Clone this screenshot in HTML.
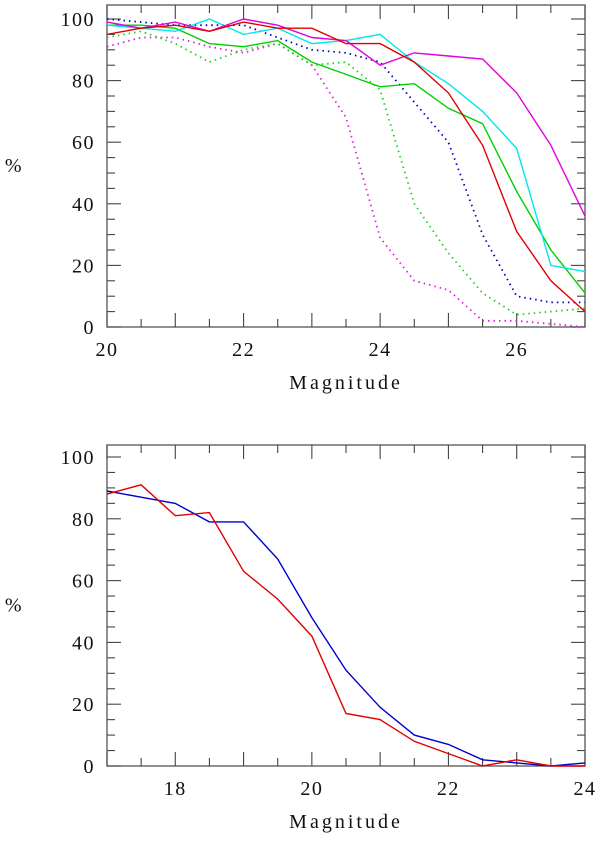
<!DOCTYPE html>
<html><head><meta charset="utf-8"><style>
body{margin:0;background:#fff;}
svg text{font-family:"Liberation Serif",serif;font-size:20px;fill:#111;letter-spacing:1.5px;}
svg text.ttl{letter-spacing:3px;}
</style></head><body>
<svg id="c" width="600" height="836" xmlns="http://www.w3.org/2000/svg"></svg>
<script>
const topX = [20,20.5,21,21.5,22,22.5,23,23.5,24,24.5,25,25.5,26,26.5,27];
const cyanSolid = [98,97,96,100,95,97,92,93,95,86,79,70,58,20,18];
const magentaSolid = [99,97,99,96,100,98,94,93,85,89,88,87,76,59,36];
const redSolid = [95,97,98,96,99,97,97,92,92,86,76,59,31,15,5];
const greenSolid = [98,98,97,92,91,93,86,82,78,79,71,66,44,25,11];
const blueDotted = [100,99,98,98,98,94,90,89,86,73,60,30,10,8,8];
const greenDotted = [94,96,92,86,90,92,85,86,77,40,24,11,4,5,6];
const magentaDotted = [91,94,94,91,89,92,85,68,29,15,12,2,2,1,0];
const botX = [17,17.5,18,18.5,19,19.5,20,20.5,21,21.5,22,22.5,23,23.5,24];
const blueBottom = [89,87,85,79,79,67,48,31,19,10,7,2,1,0,1];
const redBottom = [88,91,81,82,63,54,42,17,15,8,4,0,2,0,0];
const topXTicks = [20,22,24,26];
const botXTicks = [18,20,22,24];
const yTicks = [0,20,40,60,80,100];

const NS="http://www.w3.org/2000/svg";
const svg=document.getElementById('c');
function mk(t,a,p){const e=document.createElementNS(NS,t);for(const k in a)e.setAttribute(k,a[k]);(p||svg).appendChild(e);return e;}

function panel(name,x0,x1,y0,L,R,T,B,xTicks,series){
  const g=mk('g',{});
  
  
  const sx=v=>L+(v-x0)/(x1-x0)*(R-L);
  const sy=v=>B-(v-0)/(100)*(B-y0);
  mk('rect',{x:L,y:T,width:R-L,height:B-T,fill:'none',stroke:'#555','stroke-width':1.3},g);
  for(let v=x0;v<=x1+1e-9;v+=0.5){
    const len=Math.abs(v-Math.round(v))<1e-9?14:8;
    const x=sx(v);
    mk('line',{x1:x,y1:B,x2:x,y2:B-len,stroke:'#444','stroke-width':1.1},g);
    mk('line',{x1:x,y1:T,x2:x,y2:T+len,stroke:'#444','stroke-width':1.1},g);
  }
  for(let v=0;v<=100;v+=5){
    const len=v%20===0?14:8;
    const y=sy(v);
    mk('line',{x1:L,y1:y,x2:L+len,y2:y,stroke:'#444','stroke-width':1.1},g);
    mk('line',{x1:R,y1:y,x2:R-len,y2:y,stroke:'#444','stroke-width':1.1},g);
  }
  xTicks.forEach(v=>{const t=mk('text',{x:sx(v),y:B+29,'text-anchor':'middle'},g);t.textContent=v;
    
    });
  yTicks.forEach(v=>{const t=mk('text',{x:L-12,y:sy(v)+7,'text-anchor':'end'},g);t.textContent=v;
    
    });
  const yl=mk('text',{x:14,y:(T+B)/2+6,'text-anchor':'middle'},g);yl.textContent='%';
  
  
  const xl=mk('text',{x:(L+R)/2,y:B+62,'text-anchor':'middle','class':'ttl'},g);xl.textContent='Magnitude';
  
  
  series.forEach(s=>{
    const pts=s.xs.map((x,i)=>sx(x).toFixed(1)+','+sy(s.ys[i]).toFixed(1)).join(' ');
    const p=mk('polyline',{points:pts,fill:'none',stroke:s.c,'stroke-width':1.4},g);
    if(s.d){p.setAttribute('stroke-dasharray','1.5,4');p.setAttribute('stroke-width','1.8');}
    
    
  });
}
panel('top-chart',20,27,19,107,585,5,327,topXTicks,[
  {xs:topX,ys:magentaDotted,c:'#e020e0',d:1,n:'magenta-dotted-line'},
  {xs:topX,ys:greenDotted,c:'#20d020',d:1,n:'green-dotted-line'},
  {xs:topX,ys:blueDotted,c:'#0000c0',d:1,n:'blue-dotted-line'},
  {xs:topX,ys:greenSolid,c:'#00d000',n:'green-solid-line'},
  {xs:topX,ys:cyanSolid,c:'#00e8e8',n:'cyan-solid-line'},
  {xs:topX,ys:magentaSolid,c:'#e000e0',n:'magenta-solid-line'},
  {xs:topX,ys:redSolid,c:'#e00000',n:'red-solid-line'}
]);
panel('bottom-chart',17,24,457,107,585,445,766,botXTicks,[
  {xs:botX,ys:blueBottom,c:'#0000d0',n:'blue-line'},
  {xs:botX,ys:redBottom,c:'#e00000',n:'red-line'}
]);
</script>
</body></html>
